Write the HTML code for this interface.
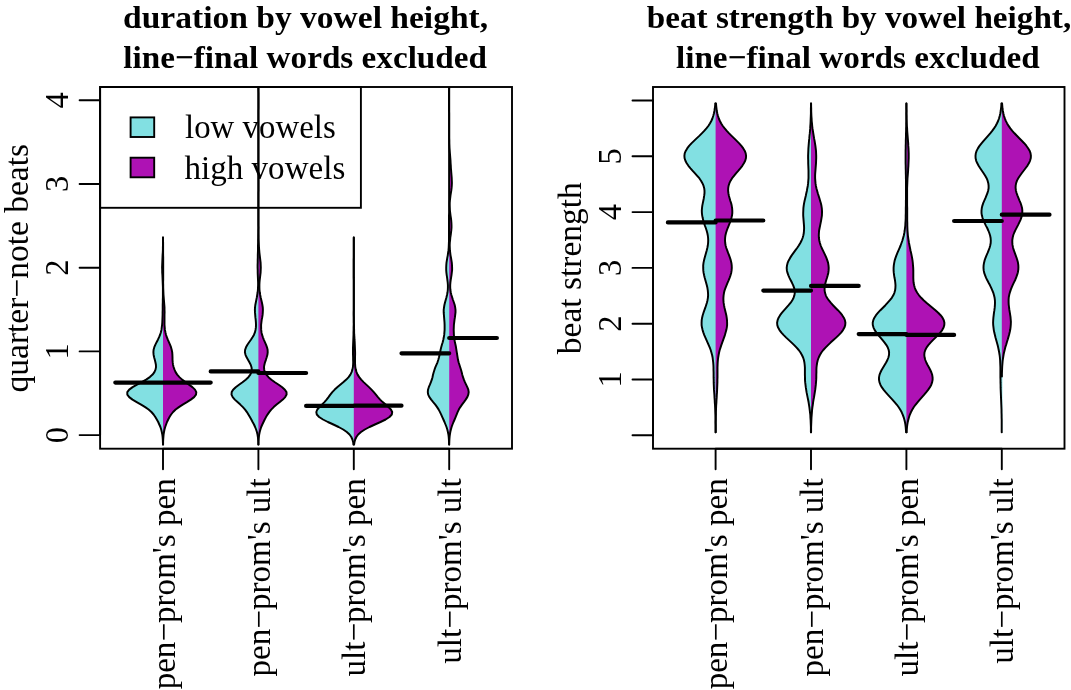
<!DOCTYPE html>
<html lang="en"><head><meta charset="utf-8"><title>vowel height plots</title>
<style>html,body{margin:0;padding:0;background:#fff}svg{display:block}</style>
</head><body>
<svg width="1071" height="690" viewBox="0 0 1071 690" font-family="'Liberation Serif', serif" fill="#000">
<rect width="1071" height="690" fill="#fff"/>
<clipPath id="cp0"><rect x="100.1" y="87.0" width="411.9" height="361.7"/></clipPath>
<rect x="100.1" y="87.0" width="260.8" height="120.8" fill="none" stroke="#000" stroke-width="1.9"/>
<rect x="130.6" y="117.4" width="23.6" height="19.6" fill="#82e0e2" stroke="#000" stroke-width="1.9"/>
<rect x="130.6" y="157.7" width="23.6" height="19.6" fill="#ae12b4" stroke="#000" stroke-width="1.9"/>
<text transform="translate(185.0,138.3) scale(1.013,1.05)" text-anchor="start" font-size="32.5">low vowels</text>
<text transform="translate(184.5,178.5) scale(1.018,1.05)" text-anchor="start" font-size="32.5">high vowels</text>
<g clip-path="url(#cp0)">
<path d="M163.6,444.5 L163.0,444.5 L162.9,442.0 L162.8,439.5 L162.6,437.0 L162.3,434.5 L161.8,432.0 L161.2,429.5 L160.4,427.0 L159.3,424.5 L158.2,422.0 L156.8,419.5 L155.3,417.0 L153.6,414.5 L151.4,412.0 L148.6,409.5 L145.2,407.1 L141.1,404.6 L136.7,402.1 L132.5,399.6 L129.2,397.1 L127.3,394.6 L127.3,392.1 L129.2,389.6 L132.6,387.1 L137.0,384.6 L141.7,382.1 L146.1,379.6 L149.8,377.1 L152.6,374.6 L154.4,372.1 L155.5,369.6 L156.0,367.1 L155.9,364.7 L155.4,362.2 L154.8,359.7 L154.1,357.2 L153.6,354.7 L153.4,352.2 L153.6,349.7 L154.3,347.2 L155.4,344.7 L156.6,342.2 L157.9,339.7 L159.1,337.2 L160.1,334.7 L160.9,332.2 L161.5,329.7 L161.8,327.2 L162.1,324.8 L162.3,322.3 L162.4,319.8 L162.5,317.3 L162.6,314.8 L162.6,312.3 L162.7,309.8 L162.7,307.3 L162.7,304.8 L162.8,302.3 L162.8,299.8 L162.9,297.3 L162.9,294.8 L162.9,292.3 L162.9,289.8 L162.9,287.3 L162.8,284.9 L162.7,282.4 L162.6,279.9 L162.5,277.4 L162.4,274.9 L162.2,272.4 L162.2,269.9 L162.1,267.4 L162.2,264.9 L162.3,262.4 L162.4,259.9 L162.5,257.4 L162.6,254.9 L162.8,252.4 L162.9,249.9 L162.9,247.4 L163.0,244.9 L163.0,242.5 L163.0,240.0 L163.0,237.5 L163.6,237.5Z" fill="#82e0e2"/>
<path d="M163.0,444.5 L163.1,444.5 L163.1,442.0 L163.2,439.5 L163.4,437.0 L163.6,434.5 L164.0,432.0 L164.5,429.5 L165.2,427.0 L166.1,424.5 L167.0,422.0 L168.2,419.5 L169.5,417.0 L171.1,414.5 L173.1,412.0 L175.6,409.5 L178.9,407.1 L182.7,404.6 L186.9,402.1 L190.8,399.6 L194.1,397.1 L196.0,394.6 L196.3,392.1 L195.0,389.6 L192.4,387.1 L189.0,384.6 L185.4,382.1 L182.1,379.6 L179.4,377.1 L177.2,374.6 L175.6,372.1 L174.5,369.6 L173.6,367.1 L173.0,364.7 L172.7,362.2 L172.5,359.7 L172.5,357.2 L172.4,354.7 L172.2,352.2 L171.7,349.7 L171.0,347.2 L170.0,344.7 L168.9,342.2 L167.8,339.7 L166.8,337.2 L166.0,334.7 L165.4,332.2 L164.9,329.7 L164.7,327.2 L164.5,324.8 L164.5,322.3 L164.5,319.8 L164.5,317.3 L164.5,314.8 L164.6,312.3 L164.5,309.8 L164.5,307.3 L164.3,304.8 L164.1,302.3 L163.9,299.8 L163.7,297.3 L163.5,294.8 L163.4,292.3 L163.3,289.8 L163.2,287.3 L163.2,284.9 L163.1,282.4 L163.2,279.9 L163.2,277.4 L163.2,274.9 L163.2,272.4 L163.2,269.9 L163.2,267.4 L163.2,264.9 L163.2,262.4 L163.2,259.9 L163.2,257.4 L163.1,254.9 L163.1,252.4 L163.1,249.9 L163.1,247.4 L163.1,244.9 L163.1,242.5 L163.0,240.0 L163.0,237.5 L163.0,237.5Z" fill="#ae12b4"/>
<path d="M163.0,444.5 L163.0,444.5 L162.9,442.0 L162.8,439.5 L162.6,437.0 L162.3,434.5 L161.8,432.0 L161.2,429.5 L160.4,427.0 L159.3,424.5 L158.2,422.0 L156.8,419.5 L155.3,417.0 L153.6,414.5 L151.4,412.0 L148.6,409.5 L145.2,407.1 L141.1,404.6 L136.7,402.1 L132.5,399.6 L129.2,397.1 L127.3,394.6 L127.3,392.1 L129.2,389.6 L132.6,387.1 L137.0,384.6 L141.7,382.1 L146.1,379.6 L149.8,377.1 L152.6,374.6 L154.4,372.1 L155.5,369.6 L156.0,367.1 L155.9,364.7 L155.4,362.2 L154.8,359.7 L154.1,357.2 L153.6,354.7 L153.4,352.2 L153.6,349.7 L154.3,347.2 L155.4,344.7 L156.6,342.2 L157.9,339.7 L159.1,337.2 L160.1,334.7 L160.9,332.2 L161.5,329.7 L161.8,327.2 L162.1,324.8 L162.3,322.3 L162.4,319.8 L162.5,317.3 L162.6,314.8 L162.6,312.3 L162.7,309.8 L162.7,307.3 L162.7,304.8 L162.8,302.3 L162.8,299.8 L162.9,297.3 L162.9,294.8 L162.9,292.3 L162.9,289.8 L162.9,287.3 L162.8,284.9 L162.7,282.4 L162.6,279.9 L162.5,277.4 L162.4,274.9 L162.2,272.4 L162.2,269.9 L162.1,267.4 L162.2,264.9 L162.3,262.4 L162.4,259.9 L162.5,257.4 L162.6,254.9 L162.8,252.4 L162.9,249.9 L162.9,247.4 L163.0,244.9 L163.0,242.5 L163.0,240.0 L163.0,237.5 L163.0,237.5" fill="none" stroke="#000" stroke-width="1.95" stroke-linejoin="round" stroke-linecap="round"/>
<path d="M163.0,444.5 L163.1,444.5 L163.1,442.0 L163.2,439.5 L163.4,437.0 L163.6,434.5 L164.0,432.0 L164.5,429.5 L165.2,427.0 L166.1,424.5 L167.0,422.0 L168.2,419.5 L169.5,417.0 L171.1,414.5 L173.1,412.0 L175.6,409.5 L178.9,407.1 L182.7,404.6 L186.9,402.1 L190.8,399.6 L194.1,397.1 L196.0,394.6 L196.3,392.1 L195.0,389.6 L192.4,387.1 L189.0,384.6 L185.4,382.1 L182.1,379.6 L179.4,377.1 L177.2,374.6 L175.6,372.1 L174.5,369.6 L173.6,367.1 L173.0,364.7 L172.7,362.2 L172.5,359.7 L172.5,357.2 L172.4,354.7 L172.2,352.2 L171.7,349.7 L171.0,347.2 L170.0,344.7 L168.9,342.2 L167.8,339.7 L166.8,337.2 L166.0,334.7 L165.4,332.2 L164.9,329.7 L164.7,327.2 L164.5,324.8 L164.5,322.3 L164.5,319.8 L164.5,317.3 L164.5,314.8 L164.6,312.3 L164.5,309.8 L164.5,307.3 L164.3,304.8 L164.1,302.3 L163.9,299.8 L163.7,297.3 L163.5,294.8 L163.4,292.3 L163.3,289.8 L163.2,287.3 L163.2,284.9 L163.1,282.4 L163.2,279.9 L163.2,277.4 L163.2,274.9 L163.2,272.4 L163.2,269.9 L163.2,267.4 L163.2,264.9 L163.2,262.4 L163.2,259.9 L163.2,257.4 L163.1,254.9 L163.1,252.4 L163.1,249.9 L163.1,247.4 L163.1,244.9 L163.1,242.5 L163.0,240.0 L163.0,237.5 L163.0,237.5" fill="none" stroke="#000" stroke-width="1.95" stroke-linejoin="round" stroke-linecap="round"/>
<path d="M115.3,382.6H163.0M163.0,382.6H210.7" stroke="#000" stroke-width="4.2" stroke-linecap="round" fill="none"/>
<path d="M259.0,444.5 L258.3,444.5 L258.3,442.0 L258.1,439.5 L257.9,437.0 L257.5,434.5 L256.9,432.0 L256.1,429.5 L255.1,427.0 L254.0,424.5 L252.6,422.0 L251.3,419.5 L249.9,417.1 L248.4,414.6 L246.9,412.1 L245.1,409.6 L242.9,407.1 L240.3,404.6 L237.5,402.1 L234.8,399.6 L232.7,397.1 L231.5,394.6 L231.7,392.1 L233.1,389.7 L235.7,387.2 L239.0,384.7 L242.5,382.2 L245.7,379.7 L248.4,377.2 L250.3,374.7 L251.4,372.2 L251.8,369.7 L251.5,367.2 L250.7,364.7 L249.4,362.3 L248.0,359.8 L246.6,357.3 L245.5,354.8 L244.9,352.3 L245.1,349.8 L246.0,347.3 L247.4,344.8 L249.1,342.3 L250.9,339.8 L252.5,337.3 L253.9,334.9 L254.9,332.4 L255.5,329.9 L255.9,327.4 L256.0,324.9 L255.9,322.4 L255.7,319.9 L255.4,317.4 L255.2,314.9 L255.0,312.4 L254.9,309.9 L255.0,307.5 L255.3,305.0 L255.8,302.5 L256.3,300.0 L256.8,297.5 L257.2,295.0 L257.6,292.5 L257.9,290.0 L258.0,287.5 L258.1,285.0 L258.1,282.5 L258.0,280.1 L257.9,277.6 L257.8,275.1 L257.7,272.6 L257.7,270.1 L257.6,267.6 L257.6,265.1 L257.7,262.6 L257.7,260.1 L257.8,257.6 L257.8,255.1 L257.9,252.6 L258.0,250.2 L258.0,247.7 L258.0,245.2 L258.1,242.7 L258.1,240.2 L258.2,237.7 L258.2,235.2 L258.3,232.7 L258.3,230.2 L258.4,227.7 L258.4,225.2 L258.4,222.8 L258.4,220.3 L258.4,217.8 L258.4,215.3 L258.4,212.8 L258.4,210.3 L258.4,207.8 L258.4,205.3 L258.4,202.8 L258.4,200.3 L258.4,197.8 L258.4,195.4 L258.4,192.9 L258.4,190.4 L258.4,187.9 L258.4,185.4 L258.4,182.9 L258.4,180.4 L258.4,177.9 L258.4,175.4 L258.4,172.9 L258.4,170.4 L258.4,168.0 L258.4,165.5 L258.4,163.0 L258.4,160.5 L258.4,158.0 L258.4,155.5 L258.4,153.0 L258.4,150.5 L258.4,148.0 L258.4,145.5 L258.4,143.0 L258.4,140.6 L258.4,138.1 L258.4,135.6 L258.4,133.1 L258.4,130.6 L258.4,128.1 L258.4,125.6 L258.4,123.1 L258.4,120.6 L258.4,118.1 L258.4,115.6 L258.4,113.2 L258.4,110.7 L258.4,108.2 L258.4,105.7 L258.4,103.2 L258.4,100.7 L258.4,98.2 L258.4,95.7 L258.4,93.2 L258.4,90.7 L258.4,88.2 L258.4,85.8 L258.4,83.3 L258.4,80.8 L258.4,78.3 L258.4,75.8 L258.4,73.3 L258.4,70.8 L258.4,68.3 L258.4,65.8 L258.4,63.3 L258.4,60.8 L258.4,58.3 L259.0,58.3Z" fill="#82e0e2"/>
<path d="M258.4,444.5 L258.5,444.5 L258.5,442.0 L258.7,439.5 L258.9,437.0 L259.2,434.5 L259.7,432.0 L260.4,429.5 L261.2,427.0 L262.3,424.5 L263.5,422.0 L264.7,419.5 L266.0,417.1 L267.5,414.6 L269.2,412.1 L271.2,409.6 L273.7,407.1 L276.6,404.6 L279.8,402.1 L282.8,399.6 L285.2,397.1 L286.6,394.6 L286.5,392.1 L284.9,389.7 L282.2,387.2 L278.7,384.7 L274.9,382.2 L271.4,379.7 L268.5,377.2 L266.3,374.7 L264.9,372.2 L264.2,369.7 L264.0,367.2 L264.4,364.7 L265.0,362.3 L265.9,359.8 L266.7,357.3 L267.4,354.8 L267.7,352.3 L267.6,349.8 L267.0,347.3 L266.1,344.8 L265.0,342.3 L263.9,339.8 L262.9,337.3 L262.1,334.9 L261.5,332.4 L261.2,329.9 L261.1,327.4 L261.1,324.9 L261.4,322.4 L261.7,319.9 L262.2,317.4 L262.6,314.9 L262.8,312.4 L262.9,309.9 L262.8,307.5 L262.4,305.0 L261.9,302.5 L261.3,300.0 L260.7,297.5 L260.2,295.0 L259.8,292.5 L259.5,290.0 L259.4,287.5 L259.4,285.0 L259.5,282.5 L259.7,280.1 L260.0,277.6 L260.3,275.1 L260.6,272.6 L260.7,270.1 L260.8,267.6 L260.7,265.1 L260.6,262.6 L260.3,260.1 L260.0,257.6 L259.7,255.1 L259.4,252.6 L259.2,250.2 L259.0,247.7 L258.9,245.2 L258.8,242.7 L258.7,240.2 L258.6,237.7 L258.6,235.2 L258.5,232.7 L258.5,230.2 L258.5,227.7 L258.4,225.2 L258.4,222.8 L258.4,220.3 L258.4,217.8 L258.4,215.3 L258.4,212.8 L258.4,210.3 L258.4,207.8 L258.4,205.3 L258.4,202.8 L258.4,200.3 L258.4,197.8 L258.4,195.4 L258.4,192.9 L258.5,190.4 L258.5,187.9 L258.5,185.4 L258.5,182.9 L258.5,180.4 L258.5,177.9 L258.5,175.4 L258.4,172.9 L258.4,170.4 L258.4,168.0 L258.4,165.5 L258.4,163.0 L258.4,160.5 L258.4,158.0 L258.4,155.5 L258.4,153.0 L258.4,150.5 L258.4,148.0 L258.4,145.5 L258.4,143.0 L258.4,140.6 L258.4,138.1 L258.4,135.6 L258.4,133.1 L258.4,130.6 L258.4,128.1 L258.4,125.6 L258.4,123.1 L258.4,120.6 L258.4,118.1 L258.4,115.6 L258.4,113.2 L258.4,110.7 L258.5,108.2 L258.5,105.7 L258.5,103.2 L258.5,100.7 L258.5,98.2 L258.5,95.7 L258.5,93.2 L258.4,90.7 L258.4,88.2 L258.4,85.8 L258.4,83.3 L258.4,80.8 L258.4,78.3 L258.4,75.8 L258.4,73.3 L258.4,70.8 L258.4,68.3 L258.4,65.8 L258.4,63.3 L258.4,60.8 L258.4,58.3 L258.4,58.3Z" fill="#ae12b4"/>
<path d="M258.4,444.5 L258.3,444.5 L258.3,442.0 L258.1,439.5 L257.9,437.0 L257.5,434.5 L256.9,432.0 L256.1,429.5 L255.1,427.0 L254.0,424.5 L252.6,422.0 L251.3,419.5 L249.9,417.1 L248.4,414.6 L246.9,412.1 L245.1,409.6 L242.9,407.1 L240.3,404.6 L237.5,402.1 L234.8,399.6 L232.7,397.1 L231.5,394.6 L231.7,392.1 L233.1,389.7 L235.7,387.2 L239.0,384.7 L242.5,382.2 L245.7,379.7 L248.4,377.2 L250.3,374.7 L251.4,372.2 L251.8,369.7 L251.5,367.2 L250.7,364.7 L249.4,362.3 L248.0,359.8 L246.6,357.3 L245.5,354.8 L244.9,352.3 L245.1,349.8 L246.0,347.3 L247.4,344.8 L249.1,342.3 L250.9,339.8 L252.5,337.3 L253.9,334.9 L254.9,332.4 L255.5,329.9 L255.9,327.4 L256.0,324.9 L255.9,322.4 L255.7,319.9 L255.4,317.4 L255.2,314.9 L255.0,312.4 L254.9,309.9 L255.0,307.5 L255.3,305.0 L255.8,302.5 L256.3,300.0 L256.8,297.5 L257.2,295.0 L257.6,292.5 L257.9,290.0 L258.0,287.5 L258.1,285.0 L258.1,282.5 L258.0,280.1 L257.9,277.6 L257.8,275.1 L257.7,272.6 L257.7,270.1 L257.6,267.6 L257.6,265.1 L257.7,262.6 L257.7,260.1 L257.8,257.6 L257.8,255.1 L257.9,252.6 L258.0,250.2 L258.0,247.7 L258.0,245.2 L258.1,242.7 L258.1,240.2 L258.2,237.7 L258.2,235.2 L258.3,232.7 L258.3,230.2 L258.4,227.7 L258.4,225.2 L258.4,222.8 L258.4,220.3 L258.4,217.8 L258.4,215.3 L258.4,212.8 L258.4,210.3 L258.4,207.8 L258.4,205.3 L258.4,202.8 L258.4,200.3 L258.4,197.8 L258.4,195.4 L258.4,192.9 L258.4,190.4 L258.4,187.9 L258.4,185.4 L258.4,182.9 L258.4,180.4 L258.4,177.9 L258.4,175.4 L258.4,172.9 L258.4,170.4 L258.4,168.0 L258.4,165.5 L258.4,163.0 L258.4,160.5 L258.4,158.0 L258.4,155.5 L258.4,153.0 L258.4,150.5 L258.4,148.0 L258.4,145.5 L258.4,143.0 L258.4,140.6 L258.4,138.1 L258.4,135.6 L258.4,133.1 L258.4,130.6 L258.4,128.1 L258.4,125.6 L258.4,123.1 L258.4,120.6 L258.4,118.1 L258.4,115.6 L258.4,113.2 L258.4,110.7 L258.4,108.2 L258.4,105.7 L258.4,103.2 L258.4,100.7 L258.4,98.2 L258.4,95.7 L258.4,93.2 L258.4,90.7 L258.4,88.2 L258.4,85.8 L258.4,83.3 L258.4,80.8 L258.4,78.3 L258.4,75.8 L258.4,73.3 L258.4,70.8 L258.4,68.3 L258.4,65.8 L258.4,63.3 L258.4,60.8 L258.4,58.3 L258.4,58.3" fill="none" stroke="#000" stroke-width="1.95" stroke-linejoin="round" stroke-linecap="round"/>
<path d="M258.4,444.5 L258.5,444.5 L258.5,442.0 L258.7,439.5 L258.9,437.0 L259.2,434.5 L259.7,432.0 L260.4,429.5 L261.2,427.0 L262.3,424.5 L263.5,422.0 L264.7,419.5 L266.0,417.1 L267.5,414.6 L269.2,412.1 L271.2,409.6 L273.7,407.1 L276.6,404.6 L279.8,402.1 L282.8,399.6 L285.2,397.1 L286.6,394.6 L286.5,392.1 L284.9,389.7 L282.2,387.2 L278.7,384.7 L274.9,382.2 L271.4,379.7 L268.5,377.2 L266.3,374.7 L264.9,372.2 L264.2,369.7 L264.0,367.2 L264.4,364.7 L265.0,362.3 L265.9,359.8 L266.7,357.3 L267.4,354.8 L267.7,352.3 L267.6,349.8 L267.0,347.3 L266.1,344.8 L265.0,342.3 L263.9,339.8 L262.9,337.3 L262.1,334.9 L261.5,332.4 L261.2,329.9 L261.1,327.4 L261.1,324.9 L261.4,322.4 L261.7,319.9 L262.2,317.4 L262.6,314.9 L262.8,312.4 L262.9,309.9 L262.8,307.5 L262.4,305.0 L261.9,302.5 L261.3,300.0 L260.7,297.5 L260.2,295.0 L259.8,292.5 L259.5,290.0 L259.4,287.5 L259.4,285.0 L259.5,282.5 L259.7,280.1 L260.0,277.6 L260.3,275.1 L260.6,272.6 L260.7,270.1 L260.8,267.6 L260.7,265.1 L260.6,262.6 L260.3,260.1 L260.0,257.6 L259.7,255.1 L259.4,252.6 L259.2,250.2 L259.0,247.7 L258.9,245.2 L258.8,242.7 L258.7,240.2 L258.6,237.7 L258.6,235.2 L258.5,232.7 L258.5,230.2 L258.5,227.7 L258.4,225.2 L258.4,222.8 L258.4,220.3 L258.4,217.8 L258.4,215.3 L258.4,212.8 L258.4,210.3 L258.4,207.8 L258.4,205.3 L258.4,202.8 L258.4,200.3 L258.4,197.8 L258.4,195.4 L258.4,192.9 L258.5,190.4 L258.5,187.9 L258.5,185.4 L258.5,182.9 L258.5,180.4 L258.5,177.9 L258.5,175.4 L258.4,172.9 L258.4,170.4 L258.4,168.0 L258.4,165.5 L258.4,163.0 L258.4,160.5 L258.4,158.0 L258.4,155.5 L258.4,153.0 L258.4,150.5 L258.4,148.0 L258.4,145.5 L258.4,143.0 L258.4,140.6 L258.4,138.1 L258.4,135.6 L258.4,133.1 L258.4,130.6 L258.4,128.1 L258.4,125.6 L258.4,123.1 L258.4,120.6 L258.4,118.1 L258.4,115.6 L258.4,113.2 L258.4,110.7 L258.5,108.2 L258.5,105.7 L258.5,103.2 L258.5,100.7 L258.5,98.2 L258.5,95.7 L258.5,93.2 L258.4,90.7 L258.4,88.2 L258.4,85.8 L258.4,83.3 L258.4,80.8 L258.4,78.3 L258.4,75.8 L258.4,73.3 L258.4,70.8 L258.4,68.3 L258.4,65.8 L258.4,63.3 L258.4,60.8 L258.4,58.3 L258.4,58.3" fill="none" stroke="#000" stroke-width="1.95" stroke-linejoin="round" stroke-linecap="round"/>
<path d="M210.7,371.4H258.4M258.4,373.0H306.1" stroke="#000" stroke-width="4.2" stroke-linecap="round" fill="none"/>
<path d="M354.4,444.5 L353.4,444.5 L353.1,442.0 L352.4,439.5 L351.3,437.0 L349.5,434.5 L346.8,432.0 L343.2,429.5 L338.6,427.0 L333.4,424.5 L327.9,422.0 L323.0,419.5 L319.1,417.0 L316.8,414.5 L316.3,412.0 L317.3,409.5 L319.4,407.1 L321.9,404.6 L324.4,402.1 L326.6,399.6 L328.5,397.1 L330.3,394.6 L332.3,392.1 L334.7,389.6 L337.5,387.1 L340.5,384.6 L343.5,382.1 L346.3,379.6 L348.6,377.1 L350.4,374.6 L351.6,372.1 L352.4,369.6 L352.9,367.1 L353.1,364.7 L353.2,362.2 L353.1,359.7 L353.1,357.2 L353.0,354.7 L353.0,352.2 L353.0,349.7 L353.0,347.2 L353.1,344.7 L353.2,342.2 L353.3,339.7 L353.4,337.2 L353.5,334.7 L353.5,332.2 L353.6,329.7 L353.6,327.2 L353.7,324.8 L353.7,322.3 L353.7,319.8 L353.7,317.3 L353.7,314.8 L353.7,312.3 L353.8,309.8 L353.8,307.3 L353.8,304.8 L353.8,302.3 L353.8,299.8 L353.8,297.3 L353.8,294.8 L353.8,292.3 L353.8,289.8 L353.8,287.3 L353.8,284.9 L353.8,282.4 L353.8,279.9 L353.7,277.4 L353.7,274.9 L353.7,272.4 L353.7,269.9 L353.7,267.4 L353.7,264.9 L353.7,262.4 L353.7,259.9 L353.8,257.4 L353.8,254.9 L353.8,252.4 L353.8,249.9 L353.8,247.4 L353.8,244.9 L353.8,242.5 L353.8,240.0 L353.8,237.5 L354.4,237.5Z" fill="#82e0e2"/>
<path d="M353.8,444.5 L354.1,444.5 L354.5,442.0 L355.2,439.5 L356.4,437.0 L358.2,434.5 L361.0,432.0 L364.8,429.5 L369.5,427.0 L374.9,424.5 L380.5,422.0 L385.6,419.5 L389.5,417.0 L391.8,414.5 L392.2,412.0 L390.9,409.5 L388.5,407.1 L385.6,404.6 L382.7,402.1 L380.1,399.6 L377.9,397.1 L375.9,394.6 L373.8,392.1 L371.5,389.6 L369.0,387.1 L366.3,384.6 L363.6,382.1 L361.2,379.6 L359.2,377.1 L357.6,374.6 L356.5,372.1 L355.8,369.6 L355.3,367.1 L355.1,364.7 L355.0,362.2 L355.0,359.7 L355.0,357.2 L355.1,354.7 L355.1,352.2 L355.0,349.7 L354.9,347.2 L354.8,344.7 L354.7,342.2 L354.5,339.7 L354.4,337.2 L354.2,334.7 L354.1,332.2 L354.1,329.7 L354.0,327.2 L354.0,324.8 L353.9,322.3 L353.9,319.8 L353.9,317.3 L353.8,314.8 L353.8,312.3 L353.8,309.8 L353.8,307.3 L353.8,304.8 L353.8,302.3 L353.8,299.8 L353.8,297.3 L353.8,294.8 L353.8,292.3 L353.8,289.8 L353.8,287.3 L353.8,284.9 L353.8,282.4 L353.8,279.9 L353.8,277.4 L353.8,274.9 L353.8,272.4 L353.8,269.9 L353.8,267.4 L353.8,264.9 L353.8,262.4 L353.8,259.9 L353.8,257.4 L353.8,254.9 L353.8,252.4 L353.8,249.9 L353.8,247.4 L353.8,244.9 L353.8,242.5 L353.8,240.0 L353.8,237.5 L353.8,237.5Z" fill="#ae12b4"/>
<path d="M353.8,444.5 L353.4,444.5 L353.1,442.0 L352.4,439.5 L351.3,437.0 L349.5,434.5 L346.8,432.0 L343.2,429.5 L338.6,427.0 L333.4,424.5 L327.9,422.0 L323.0,419.5 L319.1,417.0 L316.8,414.5 L316.3,412.0 L317.3,409.5 L319.4,407.1 L321.9,404.6 L324.4,402.1 L326.6,399.6 L328.5,397.1 L330.3,394.6 L332.3,392.1 L334.7,389.6 L337.5,387.1 L340.5,384.6 L343.5,382.1 L346.3,379.6 L348.6,377.1 L350.4,374.6 L351.6,372.1 L352.4,369.6 L352.9,367.1 L353.1,364.7 L353.2,362.2 L353.1,359.7 L353.1,357.2 L353.0,354.7 L353.0,352.2 L353.0,349.7 L353.0,347.2 L353.1,344.7 L353.2,342.2 L353.3,339.7 L353.4,337.2 L353.5,334.7 L353.5,332.2 L353.6,329.7 L353.6,327.2 L353.7,324.8 L353.7,322.3 L353.7,319.8 L353.7,317.3 L353.7,314.8 L353.7,312.3 L353.8,309.8 L353.8,307.3 L353.8,304.8 L353.8,302.3 L353.8,299.8 L353.8,297.3 L353.8,294.8 L353.8,292.3 L353.8,289.8 L353.8,287.3 L353.8,284.9 L353.8,282.4 L353.8,279.9 L353.7,277.4 L353.7,274.9 L353.7,272.4 L353.7,269.9 L353.7,267.4 L353.7,264.9 L353.7,262.4 L353.7,259.9 L353.8,257.4 L353.8,254.9 L353.8,252.4 L353.8,249.9 L353.8,247.4 L353.8,244.9 L353.8,242.5 L353.8,240.0 L353.8,237.5 L353.8,237.5" fill="none" stroke="#000" stroke-width="1.95" stroke-linejoin="round" stroke-linecap="round"/>
<path d="M353.8,444.5 L354.1,444.5 L354.5,442.0 L355.2,439.5 L356.4,437.0 L358.2,434.5 L361.0,432.0 L364.8,429.5 L369.5,427.0 L374.9,424.5 L380.5,422.0 L385.6,419.5 L389.5,417.0 L391.8,414.5 L392.2,412.0 L390.9,409.5 L388.5,407.1 L385.6,404.6 L382.7,402.1 L380.1,399.6 L377.9,397.1 L375.9,394.6 L373.8,392.1 L371.5,389.6 L369.0,387.1 L366.3,384.6 L363.6,382.1 L361.2,379.6 L359.2,377.1 L357.6,374.6 L356.5,372.1 L355.8,369.6 L355.3,367.1 L355.1,364.7 L355.0,362.2 L355.0,359.7 L355.0,357.2 L355.1,354.7 L355.1,352.2 L355.0,349.7 L354.9,347.2 L354.8,344.7 L354.7,342.2 L354.5,339.7 L354.4,337.2 L354.2,334.7 L354.1,332.2 L354.1,329.7 L354.0,327.2 L354.0,324.8 L353.9,322.3 L353.9,319.8 L353.9,317.3 L353.8,314.8 L353.8,312.3 L353.8,309.8 L353.8,307.3 L353.8,304.8 L353.8,302.3 L353.8,299.8 L353.8,297.3 L353.8,294.8 L353.8,292.3 L353.8,289.8 L353.8,287.3 L353.8,284.9 L353.8,282.4 L353.8,279.9 L353.8,277.4 L353.8,274.9 L353.8,272.4 L353.8,269.9 L353.8,267.4 L353.8,264.9 L353.8,262.4 L353.8,259.9 L353.8,257.4 L353.8,254.9 L353.8,252.4 L353.8,249.9 L353.8,247.4 L353.8,244.9 L353.8,242.5 L353.8,240.0 L353.8,237.5 L353.8,237.5" fill="none" stroke="#000" stroke-width="1.95" stroke-linejoin="round" stroke-linecap="round"/>
<path d="M306.1,405.9H353.8M353.8,405.7H401.5" stroke="#000" stroke-width="4.2" stroke-linecap="round" fill="none"/>
<path d="M449.8,444.5 L449.1,444.5 L449.0,442.0 L448.9,439.5 L448.7,437.0 L448.4,434.5 L447.9,432.0 L447.3,429.5 L446.5,427.0 L445.5,424.5 L444.5,422.0 L443.4,419.5 L442.3,417.1 L441.2,414.6 L440.0,412.1 L438.7,409.6 L437.1,407.1 L435.3,404.6 L433.2,402.1 L431.2,399.6 L429.4,397.1 L428.2,394.6 L427.8,392.1 L428.0,389.7 L428.8,387.2 L429.9,384.7 L430.9,382.2 L431.8,379.7 L432.5,377.2 L433.0,374.7 L433.7,372.2 L434.5,369.7 L435.4,367.2 L436.5,364.7 L437.5,362.3 L438.3,359.8 L439.0,357.3 L439.6,354.8 L440.1,352.3 L440.6,349.8 L441.2,347.3 L441.9,344.8 L442.7,342.3 L443.3,339.8 L443.8,337.3 L444.2,334.9 L444.4,332.4 L444.6,329.9 L444.6,327.4 L444.6,324.9 L444.5,322.4 L444.3,319.9 L444.1,317.4 L443.9,314.9 L443.7,312.4 L443.7,309.9 L444.0,307.5 L444.4,305.0 L445.0,302.5 L445.7,300.0 L446.4,297.5 L447.0,295.0 L447.5,292.5 L447.8,290.0 L447.9,287.5 L447.9,285.0 L447.7,282.5 L447.4,280.1 L447.1,277.6 L446.7,275.1 L446.4,272.6 L446.2,270.1 L446.2,267.6 L446.3,265.1 L446.5,262.6 L446.9,260.1 L447.3,257.6 L447.8,255.1 L448.1,252.6 L448.5,250.2 L448.7,247.7 L448.8,245.2 L448.9,242.7 L449.0,240.2 L449.0,237.7 L449.0,235.2 L449.0,232.7 L449.0,230.2 L449.0,227.7 L449.0,225.2 L449.0,222.8 L449.0,220.3 L449.0,217.8 L449.0,215.3 L449.1,212.8 L449.1,210.3 L449.1,207.8 L449.1,205.3 L449.1,202.8 L449.1,200.3 L449.1,197.8 L449.1,195.4 L449.1,192.9 L449.1,190.4 L449.1,187.9 L449.1,185.4 L449.1,182.9 L449.1,180.4 L449.1,177.9 L449.1,175.4 L449.1,172.9 L449.1,170.4 L449.1,168.0 L449.1,165.5 L449.1,163.0 L449.1,160.5 L449.1,158.0 L449.1,155.5 L449.1,153.0 L449.1,150.5 L449.1,148.0 L449.1,145.5 L449.1,143.0 L449.1,140.6 L449.1,138.1 L449.1,135.6 L449.1,133.1 L449.1,130.6 L449.1,128.1 L449.1,125.6 L449.1,123.1 L449.1,120.6 L449.1,118.1 L449.1,115.6 L449.1,113.2 L449.0,110.7 L449.0,108.2 L449.0,105.7 L449.0,103.2 L449.0,100.7 L449.0,98.2 L449.0,95.7 L449.0,93.2 L449.0,90.7 L449.1,88.2 L449.1,85.8 L449.1,83.3 L449.1,80.8 L449.1,78.3 L449.1,75.8 L449.1,73.3 L449.2,70.8 L449.2,68.3 L449.2,65.8 L449.2,63.3 L449.2,60.8 L449.2,58.3 L449.8,58.3Z" fill="#82e0e2"/>
<path d="M449.2,444.5 L449.2,444.5 L449.3,442.0 L449.4,439.5 L449.6,437.0 L449.9,434.5 L450.3,432.0 L450.9,429.5 L451.6,427.0 L452.5,424.5 L453.5,422.0 L454.6,419.5 L455.6,417.1 L456.6,414.6 L457.6,412.1 L458.8,409.6 L460.3,407.1 L462.0,404.6 L463.9,402.1 L465.7,399.6 L467.3,397.1 L468.3,394.6 L468.7,392.1 L468.3,389.7 L467.3,387.2 L466.1,384.7 L464.9,382.2 L463.9,379.7 L463.0,377.2 L462.3,374.7 L461.7,372.2 L461.0,369.7 L460.2,367.2 L459.4,364.7 L458.6,362.3 L458.0,359.8 L457.6,357.3 L457.2,354.8 L456.8,352.3 L456.4,349.8 L456.0,347.3 L455.5,344.8 L454.9,342.3 L454.5,339.8 L454.1,337.3 L453.9,334.9 L453.8,332.4 L453.7,329.9 L453.8,327.4 L453.9,324.9 L454.2,322.4 L454.5,319.9 L454.9,317.4 L455.2,314.9 L455.5,312.4 L455.5,309.9 L455.2,307.5 L454.7,305.0 L453.9,302.5 L453.0,300.0 L452.2,297.5 L451.4,295.0 L450.8,292.5 L450.4,290.0 L450.2,287.5 L450.2,285.0 L450.4,282.5 L450.7,280.1 L451.1,277.6 L451.5,275.1 L451.8,272.6 L452.1,270.1 L452.1,267.6 L452.0,265.1 L451.8,262.6 L451.4,260.1 L451.0,257.6 L450.5,255.1 L450.2,252.6 L449.9,250.2 L449.8,247.7 L449.7,245.2 L449.8,242.7 L450.1,240.2 L450.3,237.7 L450.7,235.2 L451.0,232.7 L451.3,230.2 L451.5,227.7 L451.5,225.2 L451.4,222.8 L451.2,220.3 L450.9,217.8 L450.5,215.3 L450.2,212.8 L449.9,210.3 L449.8,207.8 L449.7,205.3 L449.7,202.8 L449.9,200.3 L450.2,197.8 L450.5,195.4 L450.9,192.9 L451.3,190.4 L451.6,187.9 L451.8,185.4 L451.9,182.9 L451.8,180.4 L451.7,177.9 L451.5,175.4 L451.3,172.9 L451.1,170.4 L450.9,168.0 L450.8,165.5 L450.6,163.0 L450.5,160.5 L450.3,158.0 L450.1,155.5 L449.9,153.0 L449.7,150.5 L449.5,148.0 L449.4,145.5 L449.3,143.0 L449.3,140.6 L449.2,138.1 L449.2,135.6 L449.2,133.1 L449.2,130.6 L449.2,128.1 L449.2,125.6 L449.2,123.1 L449.2,120.6 L449.2,118.1 L449.2,115.6 L449.2,113.2 L449.2,110.7 L449.2,108.2 L449.2,105.7 L449.2,103.2 L449.2,100.7 L449.2,98.2 L449.2,95.7 L449.2,93.2 L449.2,90.7 L449.2,88.2 L449.2,85.8 L449.2,83.3 L449.2,80.8 L449.2,78.3 L449.2,75.8 L449.2,73.3 L449.2,70.8 L449.2,68.3 L449.2,65.8 L449.2,63.3 L449.2,60.8 L449.2,58.3 L449.2,58.3Z" fill="#ae12b4"/>
<path d="M449.2,444.5 L449.1,444.5 L449.0,442.0 L448.9,439.5 L448.7,437.0 L448.4,434.5 L447.9,432.0 L447.3,429.5 L446.5,427.0 L445.5,424.5 L444.5,422.0 L443.4,419.5 L442.3,417.1 L441.2,414.6 L440.0,412.1 L438.7,409.6 L437.1,407.1 L435.3,404.6 L433.2,402.1 L431.2,399.6 L429.4,397.1 L428.2,394.6 L427.8,392.1 L428.0,389.7 L428.8,387.2 L429.9,384.7 L430.9,382.2 L431.8,379.7 L432.5,377.2 L433.0,374.7 L433.7,372.2 L434.5,369.7 L435.4,367.2 L436.5,364.7 L437.5,362.3 L438.3,359.8 L439.0,357.3 L439.6,354.8 L440.1,352.3 L440.6,349.8 L441.2,347.3 L441.9,344.8 L442.7,342.3 L443.3,339.8 L443.8,337.3 L444.2,334.9 L444.4,332.4 L444.6,329.9 L444.6,327.4 L444.6,324.9 L444.5,322.4 L444.3,319.9 L444.1,317.4 L443.9,314.9 L443.7,312.4 L443.7,309.9 L444.0,307.5 L444.4,305.0 L445.0,302.5 L445.7,300.0 L446.4,297.5 L447.0,295.0 L447.5,292.5 L447.8,290.0 L447.9,287.5 L447.9,285.0 L447.7,282.5 L447.4,280.1 L447.1,277.6 L446.7,275.1 L446.4,272.6 L446.2,270.1 L446.2,267.6 L446.3,265.1 L446.5,262.6 L446.9,260.1 L447.3,257.6 L447.8,255.1 L448.1,252.6 L448.5,250.2 L448.7,247.7 L448.8,245.2 L448.9,242.7 L449.0,240.2 L449.0,237.7 L449.0,235.2 L449.0,232.7 L449.0,230.2 L449.0,227.7 L449.0,225.2 L449.0,222.8 L449.0,220.3 L449.0,217.8 L449.0,215.3 L449.1,212.8 L449.1,210.3 L449.1,207.8 L449.1,205.3 L449.1,202.8 L449.1,200.3 L449.1,197.8 L449.1,195.4 L449.1,192.9 L449.1,190.4 L449.1,187.9 L449.1,185.4 L449.1,182.9 L449.1,180.4 L449.1,177.9 L449.1,175.4 L449.1,172.9 L449.1,170.4 L449.1,168.0 L449.1,165.5 L449.1,163.0 L449.1,160.5 L449.1,158.0 L449.1,155.5 L449.1,153.0 L449.1,150.5 L449.1,148.0 L449.1,145.5 L449.1,143.0 L449.1,140.6 L449.1,138.1 L449.1,135.6 L449.1,133.1 L449.1,130.6 L449.1,128.1 L449.1,125.6 L449.1,123.1 L449.1,120.6 L449.1,118.1 L449.1,115.6 L449.1,113.2 L449.0,110.7 L449.0,108.2 L449.0,105.7 L449.0,103.2 L449.0,100.7 L449.0,98.2 L449.0,95.7 L449.0,93.2 L449.0,90.7 L449.1,88.2 L449.1,85.8 L449.1,83.3 L449.1,80.8 L449.1,78.3 L449.1,75.8 L449.1,73.3 L449.2,70.8 L449.2,68.3 L449.2,65.8 L449.2,63.3 L449.2,60.8 L449.2,58.3 L449.2,58.3" fill="none" stroke="#000" stroke-width="1.95" stroke-linejoin="round" stroke-linecap="round"/>
<path d="M449.2,444.5 L449.2,444.5 L449.3,442.0 L449.4,439.5 L449.6,437.0 L449.9,434.5 L450.3,432.0 L450.9,429.5 L451.6,427.0 L452.5,424.5 L453.5,422.0 L454.6,419.5 L455.6,417.1 L456.6,414.6 L457.6,412.1 L458.8,409.6 L460.3,407.1 L462.0,404.6 L463.9,402.1 L465.7,399.6 L467.3,397.1 L468.3,394.6 L468.7,392.1 L468.3,389.7 L467.3,387.2 L466.1,384.7 L464.9,382.2 L463.9,379.7 L463.0,377.2 L462.3,374.7 L461.7,372.2 L461.0,369.7 L460.2,367.2 L459.4,364.7 L458.6,362.3 L458.0,359.8 L457.6,357.3 L457.2,354.8 L456.8,352.3 L456.4,349.8 L456.0,347.3 L455.5,344.8 L454.9,342.3 L454.5,339.8 L454.1,337.3 L453.9,334.9 L453.8,332.4 L453.7,329.9 L453.8,327.4 L453.9,324.9 L454.2,322.4 L454.5,319.9 L454.9,317.4 L455.2,314.9 L455.5,312.4 L455.5,309.9 L455.2,307.5 L454.7,305.0 L453.9,302.5 L453.0,300.0 L452.2,297.5 L451.4,295.0 L450.8,292.5 L450.4,290.0 L450.2,287.5 L450.2,285.0 L450.4,282.5 L450.7,280.1 L451.1,277.6 L451.5,275.1 L451.8,272.6 L452.1,270.1 L452.1,267.6 L452.0,265.1 L451.8,262.6 L451.4,260.1 L451.0,257.6 L450.5,255.1 L450.2,252.6 L449.9,250.2 L449.8,247.7 L449.7,245.2 L449.8,242.7 L450.1,240.2 L450.3,237.7 L450.7,235.2 L451.0,232.7 L451.3,230.2 L451.5,227.7 L451.5,225.2 L451.4,222.8 L451.2,220.3 L450.9,217.8 L450.5,215.3 L450.2,212.8 L449.9,210.3 L449.8,207.8 L449.7,205.3 L449.7,202.8 L449.9,200.3 L450.2,197.8 L450.5,195.4 L450.9,192.9 L451.3,190.4 L451.6,187.9 L451.8,185.4 L451.9,182.9 L451.8,180.4 L451.7,177.9 L451.5,175.4 L451.3,172.9 L451.1,170.4 L450.9,168.0 L450.8,165.5 L450.6,163.0 L450.5,160.5 L450.3,158.0 L450.1,155.5 L449.9,153.0 L449.7,150.5 L449.5,148.0 L449.4,145.5 L449.3,143.0 L449.3,140.6 L449.2,138.1 L449.2,135.6 L449.2,133.1 L449.2,130.6 L449.2,128.1 L449.2,125.6 L449.2,123.1 L449.2,120.6 L449.2,118.1 L449.2,115.6 L449.2,113.2 L449.2,110.7 L449.2,108.2 L449.2,105.7 L449.2,103.2 L449.2,100.7 L449.2,98.2 L449.2,95.7 L449.2,93.2 L449.2,90.7 L449.2,88.2 L449.2,85.8 L449.2,83.3 L449.2,80.8 L449.2,78.3 L449.2,75.8 L449.2,73.3 L449.2,70.8 L449.2,68.3 L449.2,65.8 L449.2,63.3 L449.2,60.8 L449.2,58.3 L449.2,58.3" fill="none" stroke="#000" stroke-width="1.95" stroke-linejoin="round" stroke-linecap="round"/>
<path d="M401.5,353.3H449.2M449.2,338.0H496.9" stroke="#000" stroke-width="4.2" stroke-linecap="round" fill="none"/>
</g>
<rect x="100.1" y="87.0" width="411.9" height="361.7" fill="none" stroke="#000" stroke-width="1.9"/>
<path d="M100.1,435.0V100.2M100.1,435.1h-20.5M100.1,351.4h-20.5M100.1,267.7h-20.5M100.1,184.0h-20.5M100.1,100.3h-20.5" stroke="#000" stroke-width="1.9" fill="none" stroke-linecap="round"/>
<text transform="translate(68.0,435.1) rotate(-90) scale(1.0,1.05)" text-anchor="middle" font-size="32.5">0</text>
<text transform="translate(68.0,351.4) rotate(-90) scale(1.0,1.05)" text-anchor="middle" font-size="32.5">1</text>
<text transform="translate(68.0,267.7) rotate(-90) scale(1.0,1.05)" text-anchor="middle" font-size="32.5">2</text>
<text transform="translate(68.0,184.0) rotate(-90) scale(1.0,1.05)" text-anchor="middle" font-size="32.5">3</text>
<text transform="translate(68.0,100.3) rotate(-90) scale(1.0,1.05)" text-anchor="middle" font-size="32.5">4</text>
<path d="M163.0,448.7H449.2M163.0,448.7v20.5M258.4,448.7v20.5M353.8,448.7v20.5M449.2,448.7v20.5" stroke="#000" stroke-width="1.9" fill="none" stroke-linecap="round"/>
<text transform="translate(174.6,478.3) rotate(-90) scale(1.018,1.05)" text-anchor="end" font-size="32.5">pen−prom's pen</text>
<text transform="translate(270.0,478.3) rotate(-90) scale(1.018,1.05)" text-anchor="end" font-size="32.5">pen−prom's ult</text>
<text transform="translate(365.4,478.3) rotate(-90) scale(1.018,1.05)" text-anchor="end" font-size="32.5">ult−prom's pen</text>
<text transform="translate(460.8,478.3) rotate(-90) scale(1.018,1.05)" text-anchor="end" font-size="32.5">ult−prom's ult</text>
<text transform="translate(28.3,268.2) rotate(-90) scale(1.03,1.05)" text-anchor="middle" font-size="32.5">quarter−note beats</text>
<text transform="translate(305.6,28.2) scale(1.01,0.96)" text-anchor="middle" font-size="33.2" font-weight="bold">duration by vowel height,</text>
<text transform="translate(305.1,68.4) scale(1.0,0.96)" text-anchor="middle" font-size="33.2" font-weight="bold">line−final words excluded</text>
<clipPath id="cp1"><rect x="653.0" y="87.0" width="411.5" height="361.7"/></clipPath>
<g clip-path="url(#cp1)">
<path d="M716.2,432.2 L715.6,432.2 L715.6,429.7 L715.6,427.2 L715.6,424.7 L715.5,422.3 L715.5,419.8 L715.5,417.3 L715.4,414.8 L715.3,412.3 L715.2,409.8 L715.1,407.3 L715.0,404.8 L714.8,402.3 L714.7,399.8 L714.5,397.4 L714.4,394.9 L714.2,392.4 L714.0,389.9 L713.9,387.4 L713.8,384.9 L713.7,382.4 L713.7,379.9 L713.6,377.4 L713.6,374.9 L713.6,372.5 L713.5,370.0 L713.5,367.5 L713.4,365.0 L713.2,362.5 L712.9,360.0 L712.6,357.5 L712.1,355.0 L711.4,352.5 L710.7,350.0 L709.8,347.6 L708.7,345.1 L707.6,342.6 L706.5,340.1 L705.4,337.6 L704.3,335.1 L703.4,332.6 L702.6,330.1 L702.0,327.6 L701.6,325.1 L701.6,322.7 L701.7,320.2 L702.1,317.7 L702.7,315.2 L703.5,312.7 L704.4,310.2 L705.3,307.7 L706.1,305.2 L706.9,302.7 L707.5,300.2 L707.9,297.8 L708.1,295.3 L708.0,292.8 L707.8,290.3 L707.4,287.8 L706.8,285.3 L706.1,282.8 L705.4,280.3 L704.7,277.8 L704.1,275.3 L703.6,272.9 L703.3,270.4 L703.2,267.9 L703.2,265.4 L703.5,262.9 L704.0,260.4 L704.6,257.9 L705.3,255.4 L706.0,252.9 L706.7,250.4 L707.3,248.0 L707.8,245.5 L708.1,243.0 L708.2,240.5 L708.1,238.0 L707.8,235.5 L707.3,233.0 L706.6,230.5 L705.8,228.0 L704.9,225.6 L704.1,223.1 L703.3,220.6 L702.7,218.1 L702.2,215.6 L701.9,213.1 L701.8,210.6 L702.0,208.1 L702.3,205.6 L702.8,203.1 L703.3,200.7 L703.8,198.2 L704.2,195.7 L704.5,193.2 L704.5,190.7 L704.2,188.2 L703.5,185.7 L702.4,183.2 L701.0,180.7 L699.3,178.2 L697.2,175.8 L695.0,173.3 L692.7,170.8 L690.5,168.3 L688.4,165.8 L686.7,163.3 L685.4,160.8 L684.6,158.3 L684.4,155.8 L684.7,153.3 L685.7,150.9 L687.2,148.4 L689.1,145.9 L691.4,143.4 L694.0,140.9 L696.6,138.4 L699.3,135.9 L701.8,133.4 L704.2,130.9 L706.4,128.4 L708.3,126.0 L709.9,123.5 L711.3,121.0 L712.4,118.5 L713.2,116.0 L713.9,113.5 L714.4,111.0 L714.8,108.5 L715.1,106.0 L715.3,103.5 L716.2,103.5Z" fill="#82e0e2"/>
<path d="M715.6,432.2 L715.7,432.2 L715.7,429.7 L715.7,427.2 L715.7,424.7 L715.7,422.3 L715.8,419.8 L715.8,417.3 L715.9,414.8 L715.9,412.3 L716.0,409.8 L716.1,407.3 L716.2,404.8 L716.4,402.3 L716.5,399.8 L716.7,397.4 L716.8,394.9 L717.0,392.4 L717.1,389.9 L717.2,387.4 L717.3,384.9 L717.4,382.4 L717.4,379.9 L717.5,377.4 L717.5,374.9 L717.5,372.5 L717.5,370.0 L717.5,367.5 L717.6,365.0 L717.7,362.5 L717.9,360.0 L718.2,357.5 L718.6,355.0 L719.1,352.5 L719.7,350.0 L720.5,347.6 L721.3,345.1 L722.2,342.6 L723.1,340.1 L724.0,337.6 L724.9,335.1 L725.6,332.6 L726.3,330.1 L726.8,327.6 L727.1,325.1 L727.1,322.7 L727.0,320.2 L726.7,317.7 L726.3,315.2 L725.7,312.7 L725.1,310.2 L724.5,307.7 L724.0,305.2 L723.6,302.7 L723.4,300.2 L723.4,297.8 L723.6,295.3 L724.0,292.8 L724.6,290.3 L725.5,287.8 L726.5,285.3 L727.5,282.8 L728.6,280.3 L729.6,277.8 L730.5,275.3 L731.2,272.9 L731.6,270.4 L731.8,267.9 L731.7,265.4 L731.4,262.9 L730.8,260.4 L730.0,257.9 L729.1,255.4 L728.1,252.9 L727.2,250.4 L726.3,248.0 L725.6,245.5 L725.2,243.0 L725.0,240.5 L725.1,238.0 L725.4,235.5 L726.0,233.0 L726.8,230.5 L727.7,228.0 L728.7,225.6 L729.7,223.1 L730.6,220.6 L731.4,218.1 L732.0,215.6 L732.3,213.1 L732.3,210.6 L732.1,208.1 L731.7,205.6 L731.1,203.1 L730.3,200.7 L729.6,198.2 L728.9,195.7 L728.4,193.2 L728.1,190.7 L728.2,188.2 L728.6,185.7 L729.4,183.2 L730.6,180.7 L732.1,178.2 L734.0,175.8 L736.0,173.3 L738.2,170.8 L740.3,168.3 L742.3,165.8 L743.9,163.3 L745.2,160.8 L745.9,158.3 L746.1,155.8 L745.7,153.3 L744.8,150.9 L743.3,148.4 L741.4,145.9 L739.2,143.4 L736.7,140.9 L734.2,138.4 L731.6,135.9 L729.1,133.4 L726.8,130.9 L724.7,128.4 L722.8,126.0 L721.2,123.5 L719.9,121.0 L718.8,118.5 L718.0,116.0 L717.3,113.5 L716.8,111.0 L716.5,108.5 L716.2,106.0 L716.0,103.5 L715.6,103.5Z" fill="#ae12b4"/>
<path d="M715.6,432.2 L715.6,432.2 L715.6,429.7 L715.6,427.2 L715.6,424.7 L715.5,422.3 L715.5,419.8 L715.5,417.3 L715.4,414.8 L715.3,412.3 L715.2,409.8 L715.1,407.3 L715.0,404.8 L714.8,402.3 L714.7,399.8 L714.5,397.4 L714.4,394.9 L714.2,392.4 L714.0,389.9 L713.9,387.4 L713.8,384.9 L713.7,382.4 L713.7,379.9 L713.6,377.4 L713.6,374.9 L713.6,372.5 L713.5,370.0 L713.5,367.5 L713.4,365.0 L713.2,362.5 L712.9,360.0 L712.6,357.5 L712.1,355.0 L711.4,352.5 L710.7,350.0 L709.8,347.6 L708.7,345.1 L707.6,342.6 L706.5,340.1 L705.4,337.6 L704.3,335.1 L703.4,332.6 L702.6,330.1 L702.0,327.6 L701.6,325.1 L701.6,322.7 L701.7,320.2 L702.1,317.7 L702.7,315.2 L703.5,312.7 L704.4,310.2 L705.3,307.7 L706.1,305.2 L706.9,302.7 L707.5,300.2 L707.9,297.8 L708.1,295.3 L708.0,292.8 L707.8,290.3 L707.4,287.8 L706.8,285.3 L706.1,282.8 L705.4,280.3 L704.7,277.8 L704.1,275.3 L703.6,272.9 L703.3,270.4 L703.2,267.9 L703.2,265.4 L703.5,262.9 L704.0,260.4 L704.6,257.9 L705.3,255.4 L706.0,252.9 L706.7,250.4 L707.3,248.0 L707.8,245.5 L708.1,243.0 L708.2,240.5 L708.1,238.0 L707.8,235.5 L707.3,233.0 L706.6,230.5 L705.8,228.0 L704.9,225.6 L704.1,223.1 L703.3,220.6 L702.7,218.1 L702.2,215.6 L701.9,213.1 L701.8,210.6 L702.0,208.1 L702.3,205.6 L702.8,203.1 L703.3,200.7 L703.8,198.2 L704.2,195.7 L704.5,193.2 L704.5,190.7 L704.2,188.2 L703.5,185.7 L702.4,183.2 L701.0,180.7 L699.3,178.2 L697.2,175.8 L695.0,173.3 L692.7,170.8 L690.5,168.3 L688.4,165.8 L686.7,163.3 L685.4,160.8 L684.6,158.3 L684.4,155.8 L684.7,153.3 L685.7,150.9 L687.2,148.4 L689.1,145.9 L691.4,143.4 L694.0,140.9 L696.6,138.4 L699.3,135.9 L701.8,133.4 L704.2,130.9 L706.4,128.4 L708.3,126.0 L709.9,123.5 L711.3,121.0 L712.4,118.5 L713.2,116.0 L713.9,113.5 L714.4,111.0 L714.8,108.5 L715.1,106.0 L715.3,103.5 L715.6,103.5" fill="none" stroke="#000" stroke-width="1.95" stroke-linejoin="round" stroke-linecap="round"/>
<path d="M715.6,432.2 L715.7,432.2 L715.7,429.7 L715.7,427.2 L715.7,424.7 L715.7,422.3 L715.8,419.8 L715.8,417.3 L715.9,414.8 L715.9,412.3 L716.0,409.8 L716.1,407.3 L716.2,404.8 L716.4,402.3 L716.5,399.8 L716.7,397.4 L716.8,394.9 L717.0,392.4 L717.1,389.9 L717.2,387.4 L717.3,384.9 L717.4,382.4 L717.4,379.9 L717.5,377.4 L717.5,374.9 L717.5,372.5 L717.5,370.0 L717.5,367.5 L717.6,365.0 L717.7,362.5 L717.9,360.0 L718.2,357.5 L718.6,355.0 L719.1,352.5 L719.7,350.0 L720.5,347.6 L721.3,345.1 L722.2,342.6 L723.1,340.1 L724.0,337.6 L724.9,335.1 L725.6,332.6 L726.3,330.1 L726.8,327.6 L727.1,325.1 L727.1,322.7 L727.0,320.2 L726.7,317.7 L726.3,315.2 L725.7,312.7 L725.1,310.2 L724.5,307.7 L724.0,305.2 L723.6,302.7 L723.4,300.2 L723.4,297.8 L723.6,295.3 L724.0,292.8 L724.6,290.3 L725.5,287.8 L726.5,285.3 L727.5,282.8 L728.6,280.3 L729.6,277.8 L730.5,275.3 L731.2,272.9 L731.6,270.4 L731.8,267.9 L731.7,265.4 L731.4,262.9 L730.8,260.4 L730.0,257.9 L729.1,255.4 L728.1,252.9 L727.2,250.4 L726.3,248.0 L725.6,245.5 L725.2,243.0 L725.0,240.5 L725.1,238.0 L725.4,235.5 L726.0,233.0 L726.8,230.5 L727.7,228.0 L728.7,225.6 L729.7,223.1 L730.6,220.6 L731.4,218.1 L732.0,215.6 L732.3,213.1 L732.3,210.6 L732.1,208.1 L731.7,205.6 L731.1,203.1 L730.3,200.7 L729.6,198.2 L728.9,195.7 L728.4,193.2 L728.1,190.7 L728.2,188.2 L728.6,185.7 L729.4,183.2 L730.6,180.7 L732.1,178.2 L734.0,175.8 L736.0,173.3 L738.2,170.8 L740.3,168.3 L742.3,165.8 L743.9,163.3 L745.2,160.8 L745.9,158.3 L746.1,155.8 L745.7,153.3 L744.8,150.9 L743.3,148.4 L741.4,145.9 L739.2,143.4 L736.7,140.9 L734.2,138.4 L731.6,135.9 L729.1,133.4 L726.8,130.9 L724.7,128.4 L722.8,126.0 L721.2,123.5 L719.9,121.0 L718.8,118.5 L718.0,116.0 L717.3,113.5 L716.8,111.0 L716.5,108.5 L716.2,106.0 L716.0,103.5 L715.6,103.5" fill="none" stroke="#000" stroke-width="1.95" stroke-linejoin="round" stroke-linecap="round"/>
<path d="M667.9,222.4H715.6M715.6,220.5H763.3" stroke="#000" stroke-width="4.2" stroke-linecap="round" fill="none"/>
<path d="M811.6,432.2 L810.9,432.2 L810.9,429.7 L810.9,427.2 L810.8,424.7 L810.7,422.3 L810.6,419.8 L810.4,417.3 L810.3,414.8 L810.0,412.3 L809.7,409.8 L809.4,407.3 L809.0,404.8 L808.6,402.3 L808.1,399.8 L807.6,397.4 L807.1,394.9 L806.6,392.4 L806.2,389.9 L805.8,387.4 L805.5,384.9 L805.2,382.4 L805.0,379.9 L805.0,377.4 L804.9,374.9 L804.9,372.5 L804.9,370.0 L804.9,367.5 L804.7,365.0 L804.4,362.5 L803.9,360.0 L803.1,357.5 L801.9,355.0 L800.5,352.5 L798.7,350.0 L796.6,347.6 L794.2,345.1 L791.6,342.6 L788.9,340.1 L786.2,337.6 L783.7,335.1 L781.4,332.6 L779.5,330.1 L778.1,327.6 L777.3,325.1 L777.1,322.7 L777.6,320.2 L778.6,317.7 L780.1,315.2 L782.0,312.7 L784.2,310.2 L786.4,307.7 L788.6,305.2 L790.7,302.7 L792.3,300.2 L793.6,297.8 L794.4,295.3 L794.8,292.8 L794.6,290.3 L794.1,287.8 L793.2,285.3 L792.0,282.8 L790.7,280.3 L789.5,277.8 L788.4,275.3 L787.5,272.9 L786.9,270.4 L786.7,267.9 L787.0,265.4 L787.6,262.9 L788.7,260.4 L790.1,257.9 L791.7,255.4 L793.5,252.9 L795.3,250.4 L797.1,248.0 L798.8,245.5 L800.3,243.0 L801.6,240.5 L802.6,238.0 L803.3,235.5 L803.8,233.0 L804.0,230.5 L804.1,228.0 L804.0,225.6 L803.8,223.1 L803.6,220.6 L803.4,218.1 L803.2,215.6 L803.2,213.1 L803.3,210.6 L803.4,208.1 L803.7,205.6 L804.1,203.1 L804.6,200.7 L805.2,198.2 L805.8,195.7 L806.3,193.2 L806.9,190.7 L807.3,188.2 L807.8,185.7 L808.1,183.2 L808.3,180.7 L808.5,178.2 L808.5,175.8 L808.5,173.3 L808.5,170.8 L808.4,168.3 L808.3,165.8 L808.2,163.3 L808.2,160.8 L808.1,158.3 L808.1,155.8 L808.2,153.3 L808.3,150.9 L808.4,148.4 L808.6,145.9 L808.8,143.4 L809.0,140.9 L809.3,138.4 L809.5,135.9 L809.8,133.4 L810.0,130.9 L810.2,128.4 L810.3,126.0 L810.5,123.5 L810.6,121.0 L810.7,118.5 L810.8,116.0 L810.9,113.5 L810.9,111.0 L810.9,108.5 L811.0,106.0 L811.0,103.5 L811.6,103.5Z" fill="#82e0e2"/>
<path d="M811.0,432.2 L811.1,432.2 L811.1,429.7 L811.1,427.2 L811.2,424.7 L811.3,422.3 L811.4,419.8 L811.5,417.3 L811.7,414.8 L811.9,412.3 L812.1,409.8 L812.4,407.3 L812.8,404.8 L813.1,402.3 L813.5,399.8 L814.0,397.4 L814.4,394.9 L814.8,392.4 L815.2,389.9 L815.5,387.4 L815.8,384.9 L816.0,382.4 L816.2,379.9 L816.3,377.4 L816.3,374.9 L816.4,372.5 L816.4,370.0 L816.5,367.5 L816.8,365.0 L817.2,362.5 L817.8,360.0 L818.7,357.5 L819.9,355.0 L821.4,352.5 L823.3,350.0 L825.5,347.6 L828.0,345.1 L830.6,342.6 L833.4,340.1 L836.1,337.6 L838.7,335.1 L841.1,332.6 L843.0,330.1 L844.4,327.6 L845.2,325.1 L845.4,322.7 L844.9,320.2 L843.8,317.7 L842.2,315.2 L840.2,312.7 L837.9,310.2 L835.4,307.7 L833.0,305.2 L830.7,302.7 L828.7,300.2 L827.0,297.8 L825.8,295.3 L825.0,292.8 L824.6,290.3 L824.6,287.8 L824.9,285.3 L825.5,282.8 L826.2,280.3 L827.0,277.8 L827.7,275.3 L828.3,272.9 L828.6,270.4 L828.7,267.9 L828.5,265.4 L828.1,262.9 L827.3,260.4 L826.4,257.9 L825.3,255.4 L824.1,252.9 L822.9,250.4 L821.7,248.0 L820.7,245.5 L819.9,243.0 L819.3,240.5 L818.9,238.0 L818.8,235.5 L818.9,233.0 L819.1,230.5 L819.6,228.0 L820.1,225.6 L820.6,223.1 L821.1,220.6 L821.5,218.1 L821.9,215.6 L822.0,213.1 L822.0,210.6 L821.8,208.1 L821.4,205.6 L820.8,203.1 L820.1,200.7 L819.4,198.2 L818.6,195.7 L817.8,193.2 L817.1,190.7 L816.4,188.2 L815.9,185.7 L815.5,183.2 L815.3,180.7 L815.1,178.2 L815.1,175.8 L815.2,173.3 L815.4,170.8 L815.6,168.3 L815.8,165.8 L816.0,163.3 L816.1,160.8 L816.2,158.3 L816.2,155.8 L816.1,153.3 L816.0,150.9 L815.7,148.4 L815.4,145.9 L815.0,143.4 L814.6,140.9 L814.1,138.4 L813.7,135.9 L813.3,133.4 L812.9,130.9 L812.5,128.4 L812.2,126.0 L812.0,123.5 L811.7,121.0 L811.6,118.5 L811.4,116.0 L811.3,113.5 L811.2,111.0 L811.2,108.5 L811.1,106.0 L811.1,103.5 L811.0,103.5Z" fill="#ae12b4"/>
<path d="M811.0,432.2 L810.9,432.2 L810.9,429.7 L810.9,427.2 L810.8,424.7 L810.7,422.3 L810.6,419.8 L810.4,417.3 L810.3,414.8 L810.0,412.3 L809.7,409.8 L809.4,407.3 L809.0,404.8 L808.6,402.3 L808.1,399.8 L807.6,397.4 L807.1,394.9 L806.6,392.4 L806.2,389.9 L805.8,387.4 L805.5,384.9 L805.2,382.4 L805.0,379.9 L805.0,377.4 L804.9,374.9 L804.9,372.5 L804.9,370.0 L804.9,367.5 L804.7,365.0 L804.4,362.5 L803.9,360.0 L803.1,357.5 L801.9,355.0 L800.5,352.5 L798.7,350.0 L796.6,347.6 L794.2,345.1 L791.6,342.6 L788.9,340.1 L786.2,337.6 L783.7,335.1 L781.4,332.6 L779.5,330.1 L778.1,327.6 L777.3,325.1 L777.1,322.7 L777.6,320.2 L778.6,317.7 L780.1,315.2 L782.0,312.7 L784.2,310.2 L786.4,307.7 L788.6,305.2 L790.7,302.7 L792.3,300.2 L793.6,297.8 L794.4,295.3 L794.8,292.8 L794.6,290.3 L794.1,287.8 L793.2,285.3 L792.0,282.8 L790.7,280.3 L789.5,277.8 L788.4,275.3 L787.5,272.9 L786.9,270.4 L786.7,267.9 L787.0,265.4 L787.6,262.9 L788.7,260.4 L790.1,257.9 L791.7,255.4 L793.5,252.9 L795.3,250.4 L797.1,248.0 L798.8,245.5 L800.3,243.0 L801.6,240.5 L802.6,238.0 L803.3,235.5 L803.8,233.0 L804.0,230.5 L804.1,228.0 L804.0,225.6 L803.8,223.1 L803.6,220.6 L803.4,218.1 L803.2,215.6 L803.2,213.1 L803.3,210.6 L803.4,208.1 L803.7,205.6 L804.1,203.1 L804.6,200.7 L805.2,198.2 L805.8,195.7 L806.3,193.2 L806.9,190.7 L807.3,188.2 L807.8,185.7 L808.1,183.2 L808.3,180.7 L808.5,178.2 L808.5,175.8 L808.5,173.3 L808.5,170.8 L808.4,168.3 L808.3,165.8 L808.2,163.3 L808.2,160.8 L808.1,158.3 L808.1,155.8 L808.2,153.3 L808.3,150.9 L808.4,148.4 L808.6,145.9 L808.8,143.4 L809.0,140.9 L809.3,138.4 L809.5,135.9 L809.8,133.4 L810.0,130.9 L810.2,128.4 L810.3,126.0 L810.5,123.5 L810.6,121.0 L810.7,118.5 L810.8,116.0 L810.9,113.5 L810.9,111.0 L810.9,108.5 L811.0,106.0 L811.0,103.5 L811.0,103.5" fill="none" stroke="#000" stroke-width="1.95" stroke-linejoin="round" stroke-linecap="round"/>
<path d="M811.0,432.2 L811.1,432.2 L811.1,429.7 L811.1,427.2 L811.2,424.7 L811.3,422.3 L811.4,419.8 L811.5,417.3 L811.7,414.8 L811.9,412.3 L812.1,409.8 L812.4,407.3 L812.8,404.8 L813.1,402.3 L813.5,399.8 L814.0,397.4 L814.4,394.9 L814.8,392.4 L815.2,389.9 L815.5,387.4 L815.8,384.9 L816.0,382.4 L816.2,379.9 L816.3,377.4 L816.3,374.9 L816.4,372.5 L816.4,370.0 L816.5,367.5 L816.8,365.0 L817.2,362.5 L817.8,360.0 L818.7,357.5 L819.9,355.0 L821.4,352.5 L823.3,350.0 L825.5,347.6 L828.0,345.1 L830.6,342.6 L833.4,340.1 L836.1,337.6 L838.7,335.1 L841.1,332.6 L843.0,330.1 L844.4,327.6 L845.2,325.1 L845.4,322.7 L844.9,320.2 L843.8,317.7 L842.2,315.2 L840.2,312.7 L837.9,310.2 L835.4,307.7 L833.0,305.2 L830.7,302.7 L828.7,300.2 L827.0,297.8 L825.8,295.3 L825.0,292.8 L824.6,290.3 L824.6,287.8 L824.9,285.3 L825.5,282.8 L826.2,280.3 L827.0,277.8 L827.7,275.3 L828.3,272.9 L828.6,270.4 L828.7,267.9 L828.5,265.4 L828.1,262.9 L827.3,260.4 L826.4,257.9 L825.3,255.4 L824.1,252.9 L822.9,250.4 L821.7,248.0 L820.7,245.5 L819.9,243.0 L819.3,240.5 L818.9,238.0 L818.8,235.5 L818.9,233.0 L819.1,230.5 L819.6,228.0 L820.1,225.6 L820.6,223.1 L821.1,220.6 L821.5,218.1 L821.9,215.6 L822.0,213.1 L822.0,210.6 L821.8,208.1 L821.4,205.6 L820.8,203.1 L820.1,200.7 L819.4,198.2 L818.6,195.7 L817.8,193.2 L817.1,190.7 L816.4,188.2 L815.9,185.7 L815.5,183.2 L815.3,180.7 L815.1,178.2 L815.1,175.8 L815.2,173.3 L815.4,170.8 L815.6,168.3 L815.8,165.8 L816.0,163.3 L816.1,160.8 L816.2,158.3 L816.2,155.8 L816.1,153.3 L816.0,150.9 L815.7,148.4 L815.4,145.9 L815.0,143.4 L814.6,140.9 L814.1,138.4 L813.7,135.9 L813.3,133.4 L812.9,130.9 L812.5,128.4 L812.2,126.0 L812.0,123.5 L811.7,121.0 L811.6,118.5 L811.4,116.0 L811.3,113.5 L811.2,111.0 L811.2,108.5 L811.1,106.0 L811.1,103.5 L811.0,103.5" fill="none" stroke="#000" stroke-width="1.95" stroke-linejoin="round" stroke-linecap="round"/>
<path d="M763.3,290.6H811.0M811.0,285.9H858.7" stroke="#000" stroke-width="4.2" stroke-linecap="round" fill="none"/>
<path d="M907.0,432.2 L906.1,432.2 L905.9,429.7 L905.7,427.2 L905.4,424.7 L905.0,422.3 L904.4,419.8 L903.7,417.3 L902.8,414.8 L901.7,412.3 L900.3,409.8 L898.7,407.3 L896.9,404.8 L894.8,402.3 L892.6,399.8 L890.3,397.4 L888.0,394.9 L885.8,392.4 L883.7,389.9 L881.9,387.4 L880.5,384.9 L879.5,382.4 L879.0,379.9 L879.0,377.4 L879.5,374.9 L880.4,372.5 L881.6,370.0 L883.1,367.5 L884.6,365.0 L886.1,362.5 L887.4,360.0 L888.4,357.5 L889.0,355.0 L889.1,352.5 L888.7,350.0 L887.8,347.6 L886.4,345.1 L884.6,342.6 L882.6,340.1 L880.5,337.6 L878.3,335.1 L876.4,332.6 L874.7,330.1 L873.5,327.6 L872.8,325.1 L872.7,322.7 L873.3,320.2 L874.4,317.7 L876.0,315.2 L878.1,312.7 L880.4,310.2 L882.9,307.7 L885.4,305.2 L887.7,302.7 L889.9,300.2 L891.8,297.8 L893.3,295.3 L894.4,292.8 L895.1,290.3 L895.4,287.8 L895.5,285.3 L895.3,282.8 L895.0,280.3 L894.5,277.8 L894.1,275.3 L893.8,272.9 L893.6,270.4 L893.6,267.9 L893.8,265.4 L894.2,262.9 L894.7,260.4 L895.5,257.9 L896.4,255.4 L897.4,252.9 L898.5,250.4 L899.5,248.0 L900.6,245.5 L901.5,243.0 L902.4,240.5 L903.1,238.0 L903.8,235.5 L904.3,233.0 L904.7,230.5 L905.0,228.0 L905.3,225.6 L905.4,223.1 L905.6,220.6 L905.7,218.1 L905.7,215.6 L905.8,213.1 L905.8,210.6 L905.8,208.1 L905.9,205.6 L905.9,203.1 L905.9,200.7 L906.0,198.2 L906.0,195.7 L906.0,193.2 L906.0,190.7 L906.0,188.2 L906.0,185.7 L906.0,183.2 L906.0,180.7 L905.9,178.2 L905.9,175.8 L905.8,173.3 L905.8,170.8 L905.7,168.3 L905.7,165.8 L905.6,163.3 L905.6,160.8 L905.6,158.3 L905.6,155.8 L905.6,153.3 L905.6,150.9 L905.7,148.4 L905.7,145.9 L905.8,143.4 L905.8,140.9 L905.9,138.4 L906.0,135.9 L906.0,133.4 L906.1,130.9 L906.1,128.4 L906.2,126.0 L906.2,123.5 L906.3,121.0 L906.3,118.5 L906.3,116.0 L906.3,113.5 L906.4,111.0 L906.4,108.5 L906.4,106.0 L906.4,103.5 L907.0,103.5Z" fill="#82e0e2"/>
<path d="M906.4,432.2 L906.7,432.2 L906.8,429.7 L907.0,427.2 L907.3,424.7 L907.7,422.3 L908.3,419.8 L909.0,417.3 L909.8,414.8 L910.9,412.3 L912.2,409.8 L913.7,407.3 L915.5,404.8 L917.5,402.3 L919.6,399.8 L921.8,397.4 L924.0,394.9 L926.1,392.4 L928.1,389.9 L929.8,387.4 L931.2,384.9 L932.1,382.4 L932.6,379.9 L932.6,377.4 L932.2,374.9 L931.4,372.5 L930.3,370.0 L929.0,367.5 L927.6,365.0 L926.3,362.5 L925.3,360.0 L924.6,357.5 L924.3,355.0 L924.5,352.5 L925.3,350.0 L926.5,347.6 L928.3,345.1 L930.5,342.6 L932.9,340.1 L935.5,337.6 L938.0,335.1 L940.3,332.6 L942.2,330.1 L943.6,327.6 L944.3,325.1 L944.4,322.7 L943.8,320.2 L942.5,317.7 L940.6,315.2 L938.2,312.7 L935.4,310.2 L932.4,307.7 L929.4,305.2 L926.4,302.7 L923.6,300.2 L921.2,297.8 L919.0,295.3 L917.2,292.8 L915.8,290.3 L914.8,287.8 L914.1,285.3 L913.6,282.8 L913.4,280.3 L913.3,277.8 L913.3,275.3 L913.3,272.9 L913.3,270.4 L913.2,267.9 L913.0,265.4 L912.8,262.9 L912.5,260.4 L912.1,257.9 L911.6,255.4 L911.1,252.9 L910.5,250.4 L910.0,248.0 L909.5,245.5 L909.0,243.0 L908.6,240.5 L908.2,238.0 L907.9,235.5 L907.7,233.0 L907.5,230.5 L907.4,228.0 L907.3,225.6 L907.3,223.1 L907.2,220.6 L907.2,218.1 L907.2,215.6 L907.2,213.1 L907.2,210.6 L907.2,208.1 L907.1,205.6 L907.1,203.1 L907.1,200.7 L907.1,198.2 L907.1,195.7 L907.1,193.2 L907.1,190.7 L907.1,188.2 L907.2,185.7 L907.3,183.2 L907.4,180.7 L907.5,178.2 L907.7,175.8 L907.9,173.3 L908.1,170.8 L908.2,168.3 L908.4,165.8 L908.5,163.3 L908.6,160.8 L908.7,158.3 L908.7,155.8 L908.7,153.3 L908.6,150.9 L908.5,148.4 L908.3,145.9 L908.2,143.4 L908.0,140.9 L907.8,138.4 L907.6,135.9 L907.4,133.4 L907.2,130.9 L907.1,128.4 L906.9,126.0 L906.8,123.5 L906.7,121.0 L906.6,118.5 L906.6,116.0 L906.5,113.5 L906.5,111.0 L906.4,108.5 L906.4,106.0 L906.4,103.5 L906.4,103.5Z" fill="#ae12b4"/>
<path d="M906.4,432.2 L906.1,432.2 L905.9,429.7 L905.7,427.2 L905.4,424.7 L905.0,422.3 L904.4,419.8 L903.7,417.3 L902.8,414.8 L901.7,412.3 L900.3,409.8 L898.7,407.3 L896.9,404.8 L894.8,402.3 L892.6,399.8 L890.3,397.4 L888.0,394.9 L885.8,392.4 L883.7,389.9 L881.9,387.4 L880.5,384.9 L879.5,382.4 L879.0,379.9 L879.0,377.4 L879.5,374.9 L880.4,372.5 L881.6,370.0 L883.1,367.5 L884.6,365.0 L886.1,362.5 L887.4,360.0 L888.4,357.5 L889.0,355.0 L889.1,352.5 L888.7,350.0 L887.8,347.6 L886.4,345.1 L884.6,342.6 L882.6,340.1 L880.5,337.6 L878.3,335.1 L876.4,332.6 L874.7,330.1 L873.5,327.6 L872.8,325.1 L872.7,322.7 L873.3,320.2 L874.4,317.7 L876.0,315.2 L878.1,312.7 L880.4,310.2 L882.9,307.7 L885.4,305.2 L887.7,302.7 L889.9,300.2 L891.8,297.8 L893.3,295.3 L894.4,292.8 L895.1,290.3 L895.4,287.8 L895.5,285.3 L895.3,282.8 L895.0,280.3 L894.5,277.8 L894.1,275.3 L893.8,272.9 L893.6,270.4 L893.6,267.9 L893.8,265.4 L894.2,262.9 L894.7,260.4 L895.5,257.9 L896.4,255.4 L897.4,252.9 L898.5,250.4 L899.5,248.0 L900.6,245.5 L901.5,243.0 L902.4,240.5 L903.1,238.0 L903.8,235.5 L904.3,233.0 L904.7,230.5 L905.0,228.0 L905.3,225.6 L905.4,223.1 L905.6,220.6 L905.7,218.1 L905.7,215.6 L905.8,213.1 L905.8,210.6 L905.8,208.1 L905.9,205.6 L905.9,203.1 L905.9,200.7 L906.0,198.2 L906.0,195.7 L906.0,193.2 L906.0,190.7 L906.0,188.2 L906.0,185.7 L906.0,183.2 L906.0,180.7 L905.9,178.2 L905.9,175.8 L905.8,173.3 L905.8,170.8 L905.7,168.3 L905.7,165.8 L905.6,163.3 L905.6,160.8 L905.6,158.3 L905.6,155.8 L905.6,153.3 L905.6,150.9 L905.7,148.4 L905.7,145.9 L905.8,143.4 L905.8,140.9 L905.9,138.4 L906.0,135.9 L906.0,133.4 L906.1,130.9 L906.1,128.4 L906.2,126.0 L906.2,123.5 L906.3,121.0 L906.3,118.5 L906.3,116.0 L906.3,113.5 L906.4,111.0 L906.4,108.5 L906.4,106.0 L906.4,103.5 L906.4,103.5" fill="none" stroke="#000" stroke-width="1.95" stroke-linejoin="round" stroke-linecap="round"/>
<path d="M906.4,432.2 L906.7,432.2 L906.8,429.7 L907.0,427.2 L907.3,424.7 L907.7,422.3 L908.3,419.8 L909.0,417.3 L909.8,414.8 L910.9,412.3 L912.2,409.8 L913.7,407.3 L915.5,404.8 L917.5,402.3 L919.6,399.8 L921.8,397.4 L924.0,394.9 L926.1,392.4 L928.1,389.9 L929.8,387.4 L931.2,384.9 L932.1,382.4 L932.6,379.9 L932.6,377.4 L932.2,374.9 L931.4,372.5 L930.3,370.0 L929.0,367.5 L927.6,365.0 L926.3,362.5 L925.3,360.0 L924.6,357.5 L924.3,355.0 L924.5,352.5 L925.3,350.0 L926.5,347.6 L928.3,345.1 L930.5,342.6 L932.9,340.1 L935.5,337.6 L938.0,335.1 L940.3,332.6 L942.2,330.1 L943.6,327.6 L944.3,325.1 L944.4,322.7 L943.8,320.2 L942.5,317.7 L940.6,315.2 L938.2,312.7 L935.4,310.2 L932.4,307.7 L929.4,305.2 L926.4,302.7 L923.6,300.2 L921.2,297.8 L919.0,295.3 L917.2,292.8 L915.8,290.3 L914.8,287.8 L914.1,285.3 L913.6,282.8 L913.4,280.3 L913.3,277.8 L913.3,275.3 L913.3,272.9 L913.3,270.4 L913.2,267.9 L913.0,265.4 L912.8,262.9 L912.5,260.4 L912.1,257.9 L911.6,255.4 L911.1,252.9 L910.5,250.4 L910.0,248.0 L909.5,245.5 L909.0,243.0 L908.6,240.5 L908.2,238.0 L907.9,235.5 L907.7,233.0 L907.5,230.5 L907.4,228.0 L907.3,225.6 L907.3,223.1 L907.2,220.6 L907.2,218.1 L907.2,215.6 L907.2,213.1 L907.2,210.6 L907.2,208.1 L907.1,205.6 L907.1,203.1 L907.1,200.7 L907.1,198.2 L907.1,195.7 L907.1,193.2 L907.1,190.7 L907.1,188.2 L907.2,185.7 L907.3,183.2 L907.4,180.7 L907.5,178.2 L907.7,175.8 L907.9,173.3 L908.1,170.8 L908.2,168.3 L908.4,165.8 L908.5,163.3 L908.6,160.8 L908.7,158.3 L908.7,155.8 L908.7,153.3 L908.6,150.9 L908.5,148.4 L908.3,145.9 L908.2,143.4 L908.0,140.9 L907.8,138.4 L907.6,135.9 L907.4,133.4 L907.2,130.9 L907.1,128.4 L906.9,126.0 L906.8,123.5 L906.7,121.0 L906.6,118.5 L906.6,116.0 L906.5,113.5 L906.5,111.0 L906.4,108.5 L906.4,106.0 L906.4,103.5 L906.4,103.5" fill="none" stroke="#000" stroke-width="1.95" stroke-linejoin="round" stroke-linecap="round"/>
<path d="M858.7,334.1H906.4M906.4,334.9H954.1" stroke="#000" stroke-width="4.2" stroke-linecap="round" fill="none"/>
<path d="M1002.4,432.2 L1001.7,432.2 L1001.7,429.7 L1001.7,427.2 L1001.7,424.7 L1001.7,422.3 L1001.7,419.8 L1001.6,417.3 L1001.6,414.8 L1001.5,412.3 L1001.5,409.8 L1001.4,407.3 L1001.3,404.8 L1001.2,402.3 L1001.1,399.8 L1001.0,397.4 L1000.9,394.9 L1000.8,392.4 L1000.7,389.9 L1000.6,387.4 L1000.6,384.9 L1000.5,382.4 L1000.5,379.9 L1000.4,377.4 L1000.4,374.9 L1000.4,372.5 L1000.4,370.0 L1000.4,367.5 L1000.3,365.0 L1000.2,362.5 L1000.1,360.0 L999.9,357.5 L999.6,355.0 L999.2,352.5 L998.7,350.0 L998.2,347.6 L997.6,345.1 L996.9,342.6 L996.2,340.1 L995.5,337.6 L994.9,335.1 L994.3,332.6 L993.8,330.1 L993.5,327.6 L993.2,325.1 L993.1,322.7 L993.2,320.2 L993.4,317.7 L993.7,315.2 L994.0,312.7 L994.4,310.2 L994.7,307.7 L994.9,305.2 L995.0,302.7 L994.9,300.2 L994.6,297.8 L994.0,295.3 L993.3,292.8 L992.3,290.3 L991.2,287.8 L990.0,285.3 L988.6,282.8 L987.3,280.3 L986.1,277.8 L985.1,275.3 L984.2,272.9 L983.7,270.4 L983.5,267.9 L983.6,265.4 L984.0,262.9 L984.6,260.4 L985.5,257.9 L986.5,255.4 L987.6,252.9 L988.6,250.4 L989.5,248.0 L990.2,245.5 L990.7,243.0 L990.8,240.5 L990.6,238.0 L990.1,235.5 L989.3,233.0 L988.3,230.5 L987.2,228.0 L985.9,225.6 L984.7,223.1 L983.5,220.6 L982.6,218.1 L981.9,215.6 L981.5,213.1 L981.5,210.6 L981.8,208.1 L982.4,205.6 L983.2,203.1 L984.3,200.7 L985.4,198.2 L986.4,195.7 L987.4,193.2 L988.1,190.7 L988.6,188.2 L988.6,185.7 L988.3,183.2 L987.6,180.7 L986.6,178.2 L985.2,175.8 L983.6,173.3 L981.9,170.8 L980.2,168.3 L978.6,165.8 L977.3,163.3 L976.2,160.8 L975.6,158.3 L975.5,155.8 L975.8,153.3 L976.6,150.9 L977.9,148.4 L979.5,145.9 L981.5,143.4 L983.6,140.9 L985.8,138.4 L988.0,135.9 L990.2,133.4 L992.2,130.9 L994.0,128.4 L995.6,126.0 L996.9,123.5 L998.1,121.0 L999.0,118.5 L999.7,116.0 L1000.3,113.5 L1000.7,111.0 L1001.0,108.5 L1001.3,106.0 L1001.4,103.5 L1002.4,103.5Z" fill="#82e0e2"/>
<path d="M1001.8,376.4 L1001.9,376.4 L1001.9,373.9 L1002.0,371.4 L1002.1,369.0 L1002.2,366.5 L1002.4,364.0 L1002.6,361.5 L1002.9,359.0 L1003.3,356.6 L1003.7,354.1 L1004.3,351.6 L1004.9,349.1 L1005.5,346.6 L1006.3,344.2 L1007.0,341.7 L1007.8,339.2 L1008.5,336.7 L1009.2,334.2 L1009.8,331.8 L1010.3,329.3 L1010.6,326.8 L1010.8,324.3 L1010.9,321.8 L1010.7,319.4 L1010.5,316.9 L1010.1,314.4 L1009.7,311.9 L1009.3,309.4 L1009.0,307.0 L1008.7,304.5 L1008.6,302.0 L1008.6,299.5 L1008.8,297.0 L1009.3,294.6 L1010.0,292.1 L1010.8,289.6 L1011.8,287.1 L1012.9,284.6 L1014.1,282.1 L1015.3,279.7 L1016.3,277.2 L1017.2,274.7 L1017.9,272.2 L1018.3,269.7 L1018.4,267.3 L1018.3,264.8 L1017.9,262.3 L1017.2,259.8 L1016.4,257.3 L1015.5,254.9 L1014.6,252.4 L1013.7,249.9 L1013.0,247.4 L1012.5,244.9 L1012.3,242.5 L1012.3,240.0 L1012.7,237.5 L1013.3,235.0 L1014.3,232.5 L1015.4,230.1 L1016.7,227.6 L1018.0,225.1 L1019.2,222.6 L1020.4,220.1 L1021.3,217.7 L1022.0,215.2 L1022.3,212.7 L1022.3,210.2 L1022.0,207.7 L1021.3,205.3 L1020.5,202.8 L1019.4,200.3 L1018.4,197.8 L1017.4,195.3 L1016.5,192.8 L1015.9,190.4 L1015.6,187.9 L1015.7,185.4 L1016.2,182.9 L1017.1,180.4 L1018.4,178.0 L1020.1,175.5 L1021.9,173.0 L1023.8,170.5 L1025.7,168.0 L1027.5,165.6 L1029.0,163.1 L1030.1,160.6 L1030.8,158.1 L1030.9,155.6 L1030.5,153.2 L1029.6,150.7 L1028.1,148.2 L1026.3,145.7 L1024.2,143.2 L1021.8,140.8 L1019.3,138.3 L1016.9,135.8 L1014.5,133.3 L1012.3,130.8 L1010.3,128.4 L1008.6,125.9 L1007.1,123.4 L1005.8,120.9 L1004.8,118.4 L1004.0,116.0 L1003.4,113.5 L1002.9,111.0 L1002.5,108.5 L1002.3,106.0 L1002.1,103.5 L1001.8,103.5Z" fill="#ae12b4"/>
<path d="M1001.8,432.2 L1001.7,432.2 L1001.7,429.7 L1001.7,427.2 L1001.7,424.7 L1001.7,422.3 L1001.7,419.8 L1001.6,417.3 L1001.6,414.8 L1001.5,412.3 L1001.5,409.8 L1001.4,407.3 L1001.3,404.8 L1001.2,402.3 L1001.1,399.8 L1001.0,397.4 L1000.9,394.9 L1000.8,392.4 L1000.7,389.9 L1000.6,387.4 L1000.6,384.9 L1000.5,382.4 L1000.5,379.9 L1000.4,377.4 L1000.4,374.9 L1000.4,372.5 L1000.4,370.0 L1000.4,367.5 L1000.3,365.0 L1000.2,362.5 L1000.1,360.0 L999.9,357.5 L999.6,355.0 L999.2,352.5 L998.7,350.0 L998.2,347.6 L997.6,345.1 L996.9,342.6 L996.2,340.1 L995.5,337.6 L994.9,335.1 L994.3,332.6 L993.8,330.1 L993.5,327.6 L993.2,325.1 L993.1,322.7 L993.2,320.2 L993.4,317.7 L993.7,315.2 L994.0,312.7 L994.4,310.2 L994.7,307.7 L994.9,305.2 L995.0,302.7 L994.9,300.2 L994.6,297.8 L994.0,295.3 L993.3,292.8 L992.3,290.3 L991.2,287.8 L990.0,285.3 L988.6,282.8 L987.3,280.3 L986.1,277.8 L985.1,275.3 L984.2,272.9 L983.7,270.4 L983.5,267.9 L983.6,265.4 L984.0,262.9 L984.6,260.4 L985.5,257.9 L986.5,255.4 L987.6,252.9 L988.6,250.4 L989.5,248.0 L990.2,245.5 L990.7,243.0 L990.8,240.5 L990.6,238.0 L990.1,235.5 L989.3,233.0 L988.3,230.5 L987.2,228.0 L985.9,225.6 L984.7,223.1 L983.5,220.6 L982.6,218.1 L981.9,215.6 L981.5,213.1 L981.5,210.6 L981.8,208.1 L982.4,205.6 L983.2,203.1 L984.3,200.7 L985.4,198.2 L986.4,195.7 L987.4,193.2 L988.1,190.7 L988.6,188.2 L988.6,185.7 L988.3,183.2 L987.6,180.7 L986.6,178.2 L985.2,175.8 L983.6,173.3 L981.9,170.8 L980.2,168.3 L978.6,165.8 L977.3,163.3 L976.2,160.8 L975.6,158.3 L975.5,155.8 L975.8,153.3 L976.6,150.9 L977.9,148.4 L979.5,145.9 L981.5,143.4 L983.6,140.9 L985.8,138.4 L988.0,135.9 L990.2,133.4 L992.2,130.9 L994.0,128.4 L995.6,126.0 L996.9,123.5 L998.1,121.0 L999.0,118.5 L999.7,116.0 L1000.3,113.5 L1000.7,111.0 L1001.0,108.5 L1001.3,106.0 L1001.4,103.5 L1001.8,103.5" fill="none" stroke="#000" stroke-width="1.95" stroke-linejoin="round" stroke-linecap="round"/>
<path d="M1001.8,376.4 L1001.9,376.4 L1001.9,373.9 L1002.0,371.4 L1002.1,369.0 L1002.2,366.5 L1002.4,364.0 L1002.6,361.5 L1002.9,359.0 L1003.3,356.6 L1003.7,354.1 L1004.3,351.6 L1004.9,349.1 L1005.5,346.6 L1006.3,344.2 L1007.0,341.7 L1007.8,339.2 L1008.5,336.7 L1009.2,334.2 L1009.8,331.8 L1010.3,329.3 L1010.6,326.8 L1010.8,324.3 L1010.9,321.8 L1010.7,319.4 L1010.5,316.9 L1010.1,314.4 L1009.7,311.9 L1009.3,309.4 L1009.0,307.0 L1008.7,304.5 L1008.6,302.0 L1008.6,299.5 L1008.8,297.0 L1009.3,294.6 L1010.0,292.1 L1010.8,289.6 L1011.8,287.1 L1012.9,284.6 L1014.1,282.1 L1015.3,279.7 L1016.3,277.2 L1017.2,274.7 L1017.9,272.2 L1018.3,269.7 L1018.4,267.3 L1018.3,264.8 L1017.9,262.3 L1017.2,259.8 L1016.4,257.3 L1015.5,254.9 L1014.6,252.4 L1013.7,249.9 L1013.0,247.4 L1012.5,244.9 L1012.3,242.5 L1012.3,240.0 L1012.7,237.5 L1013.3,235.0 L1014.3,232.5 L1015.4,230.1 L1016.7,227.6 L1018.0,225.1 L1019.2,222.6 L1020.4,220.1 L1021.3,217.7 L1022.0,215.2 L1022.3,212.7 L1022.3,210.2 L1022.0,207.7 L1021.3,205.3 L1020.5,202.8 L1019.4,200.3 L1018.4,197.8 L1017.4,195.3 L1016.5,192.8 L1015.9,190.4 L1015.6,187.9 L1015.7,185.4 L1016.2,182.9 L1017.1,180.4 L1018.4,178.0 L1020.1,175.5 L1021.9,173.0 L1023.8,170.5 L1025.7,168.0 L1027.5,165.6 L1029.0,163.1 L1030.1,160.6 L1030.8,158.1 L1030.9,155.6 L1030.5,153.2 L1029.6,150.7 L1028.1,148.2 L1026.3,145.7 L1024.2,143.2 L1021.8,140.8 L1019.3,138.3 L1016.9,135.8 L1014.5,133.3 L1012.3,130.8 L1010.3,128.4 L1008.6,125.9 L1007.1,123.4 L1005.8,120.9 L1004.8,118.4 L1004.0,116.0 L1003.4,113.5 L1002.9,111.0 L1002.5,108.5 L1002.3,106.0 L1002.1,103.5 L1001.8,103.5" fill="none" stroke="#000" stroke-width="1.95" stroke-linejoin="round" stroke-linecap="round"/>
<path d="M954.1,221.0H1001.8M1001.8,214.7H1049.5" stroke="#000" stroke-width="4.2" stroke-linecap="round" fill="none"/>
</g>
<rect x="653.0" y="87.0" width="411.5" height="361.7" fill="none" stroke="#000" stroke-width="1.9"/>
<path d="M653.0,435.0V100.2M653.0,435.3h-20.5M653.0,379.5h-20.5M653.0,323.7h-20.5M653.0,267.9h-20.5M653.0,212.1h-20.5M653.0,156.3h-20.5M653.0,100.5h-20.5" stroke="#000" stroke-width="1.9" fill="none" stroke-linecap="round"/>
<text transform="translate(620.9,379.5) rotate(-90) scale(1.0,1.05)" text-anchor="middle" font-size="32.5">1</text>
<text transform="translate(620.9,323.7) rotate(-90) scale(1.0,1.05)" text-anchor="middle" font-size="32.5">2</text>
<text transform="translate(620.9,267.9) rotate(-90) scale(1.0,1.05)" text-anchor="middle" font-size="32.5">3</text>
<text transform="translate(620.9,212.1) rotate(-90) scale(1.0,1.05)" text-anchor="middle" font-size="32.5">4</text>
<text transform="translate(620.9,156.3) rotate(-90) scale(1.0,1.05)" text-anchor="middle" font-size="32.5">5</text>
<path d="M715.6,448.7H1001.8M715.6,448.7v20.5M811.0,448.7v20.5M906.4,448.7v20.5M1001.8,448.7v20.5" stroke="#000" stroke-width="1.9" fill="none" stroke-linecap="round"/>
<text transform="translate(727.2,478.3) rotate(-90) scale(1.018,1.05)" text-anchor="end" font-size="32.5">pen−prom's pen</text>
<text transform="translate(822.6,478.3) rotate(-90) scale(1.018,1.05)" text-anchor="end" font-size="32.5">pen−prom's ult</text>
<text transform="translate(918.0,478.3) rotate(-90) scale(1.018,1.05)" text-anchor="end" font-size="32.5">ult−prom's pen</text>
<text transform="translate(1013.4,478.3) rotate(-90) scale(1.018,1.05)" text-anchor="end" font-size="32.5">ult−prom's ult</text>
<text transform="translate(581.2,268.2) rotate(-90) scale(1.03,1.05)" text-anchor="middle" font-size="32.5">beat strength</text>
<text transform="translate(859.0,28.2) scale(1.0,0.96)" text-anchor="middle" font-size="33.2" font-weight="bold">beat strength by vowel height,</text>
<text transform="translate(857.8,68.4) scale(1.0,0.96)" text-anchor="middle" font-size="33.2" font-weight="bold">line−final words excluded</text>
</svg>
</body></html>
